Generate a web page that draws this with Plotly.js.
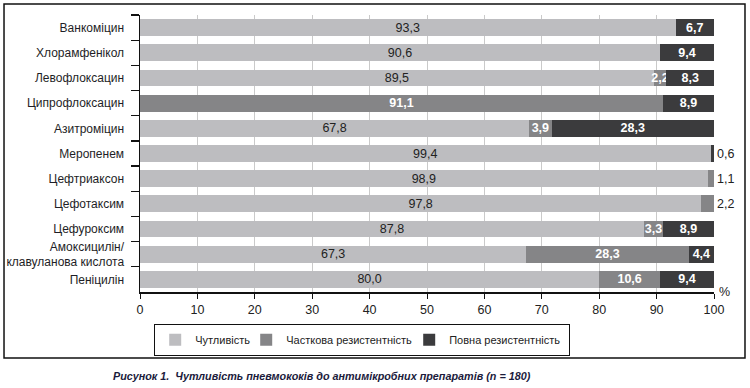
<!DOCTYPE html>
<html>
<head>
<meta charset="utf-8">
<script src="https://cdn.plot.ly/plotly-3.0.1.min.js"></script>
<style>html,body{margin:0;padding:0;background:#fff;}#chart{width:750px;height:388px;}</style>
</head>
<body>
<div id="chart"></div>
<script>
const categories = ["Ванкоміцин","Хлорамфенікол","Левофлоксацин","Ципрофлоксацин","Азитроміцин","Меропенем","Цефтриаксон","Цефотаксим","Цефуроксим","Амоксицилін/<br>клавуланова кислота","Пеніцилін"];
const sensitive = [93.3, 90.6, 89.5, null, 67.8, 99.4, 98.9, 97.8, 87.8, 67.3, 80.0];
const partial   = [null, null, 2.2, 91.1, 3.9, null, 1.1, 2.2, 3.3, 28.3, 10.6];
const full      = [6.7, 9.4, 8.3, 8.9, 28.3, 0.6, null, null, 8.9, 4.4, 9.4];
const seriesNames = ["Чутливість","Часткова резистентність","Повна резистентність"];
const xTicks = [0,10,20,30,40,50,60,70,80,90,100];
const caption = "Рисунок 1.  Чутливість пневмококів до антимікробних препаратів (n = 180)";

const fmt = v => v == null ? "" : v.toFixed(1).replace(".", ",");
const smallOutside = v => (v != null && v < 2.5) ? "outside" : "inside";

const FONT = "'Liberation Sans', Arial, sans-serif";
const colors = ["#bdbdc0", "#858587", "#3b3b3d"];
const base = {
  type: "bar", orientation: "h", y: categories,
  insidetextanchor: "middle", textangle: 0, constraintext: "none",
  cliponaxis: false, marker: {line: {width: 0}}
};
const traces = [
  Object.assign({}, base, {name: seriesNames[0], x: sensitive, text: sensitive.map(fmt),
    textposition: "inside", marker: {color: colors[0]},
    insidetextfont: {color: "#222", size: 12.5, family: FONT}, legendwidth: 46}),
  Object.assign({}, base, {name: seriesNames[1], x: partial, text: partial.map(fmt),
    textposition: partial.map((v, i) => (v != null && v < 2.5 && full[i] == null) ? "outside" : "inside"),
    marker: {color: colors[1]},
    insidetextfont: {color: "#fff", size: 12.5, family: FONT, weight: "bold"},
    outsidetextfont: {color: "#222", size: 12.5, family: FONT}, legendwidth: 118}),
  Object.assign({}, base, {name: seriesNames[2], x: full, text: full.map(fmt),
    textposition: full.map(smallOutside), marker: {color: colors[2]},
    insidetextfont: {color: "#fff", size: 12.5, family: FONT, weight: "bold"},
    outsidetextfont: {color: "#222", size: 12.5, family: FONT}, legendwidth: 114})
];

const layout = {
  width: 750, height: 388,
  margin: {l: 140, r: 36, t: 15, b: 96},
  paper_bgcolor: "#fff", plot_bgcolor: "#fff",
  font: {family: FONT, size: 12, color: "#222"},
  barmode: "stack", bargap: 0.33,
  showlegend: true,
  xaxis: {range: [0, 100], tickvals: xTicks, ticktext: xTicks.map(String),
    showgrid: true, gridcolor: "#cacaca", gridwidth: 1,
    showline: true, linecolor: "#111", linewidth: 1.5,
    ticks: "outside", ticklen: 5, tickcolor: "#111", tickwidth: 1,
    tickfont: {size: 12.5, color: "#222"}, zeroline: false, fixedrange: true},
  yaxis: {type: "category", autorange: "reversed",
    showline: true, linecolor: "#111", linewidth: 1.5,
    ticks: "outside", tickson: "boundaries", ticklen: 8, tickcolor: "#111", tickwidth: 1.2,
    ticklabelstandoff: 12,
    tickfont: {size: 12, color: "#1e1e26"}, showgrid: false, zeroline: false, fixedrange: true},
  legend: {orientation: "h", x: 0.0244, xanchor: "left", y: -0.1155, yanchor: "top",
    bordercolor: "#111", borderwidth: 1.2, bgcolor: "#fff",
    font: {size: 11, color: "#222"}, traceorder: "normal"},
  shapes: [{type: "rect", xref: "paper", yref: "paper",
    x0: -0.2369, x1: 1.054, y0: -0.2383, y1: 1.0397,
    line: {color: "#111", width: 1.5}, fillcolor: "rgba(0,0,0,0)", layer: "below"}],
  annotations: [
    {xref: "x", yref: "paper", x: 100, y: 0, xanchor: "left", yanchor: "middle", xshift: 3,
     text: "%", showarrow: false, font: {size: 12.5, color: "#222"}},
    {xref: "paper", yref: "paper", x: 0.317, y: -0.303, xanchor: "center", yanchor: "middle",
     text: caption, showarrow: false,
     font: {family: FONT, size: 10.8, color: "#1b1b3c", weight: "bold", style: "italic"}}
  ]
};
Plotly.newPlot("chart", traces, layout, {displayModeBar: false, staticPlot: true});
</script>
</body>
</html>
